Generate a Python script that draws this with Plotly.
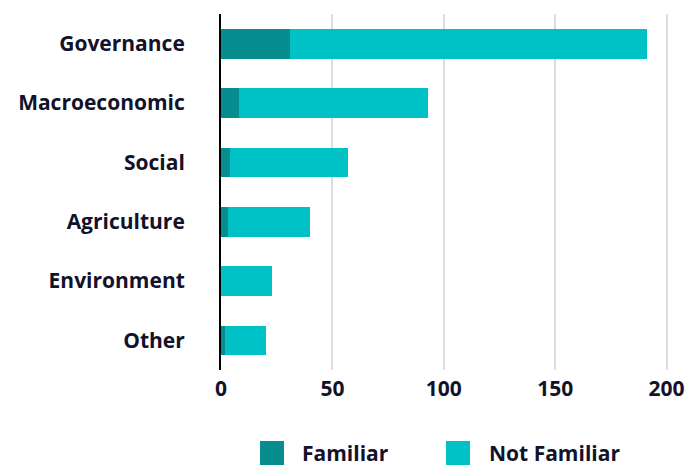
import plotly.graph_objects as go

categories = ["Governance", "Macroeconomic", "Social", "Agriculture", "Environment", "Other"]
familiar = [31, 8, 4, 3, 0, 2]
not_familiar = [160, 85, 53, 37, 23, 18]
x_ticks = [0, 50, 100, 150, 200]
series_names = ["Familiar", "Not Familiar"]

C_FAM = "#068D90"
C_NOT = "#00C2C6"
TXT = "#12122A"
FONT = "Open Sans"
FS = 21
FW = 700

W, H = 688, 466
L, R, T, B = 221, 10, 14, 96
pw, ph = W - L - R, H - T - B

def px_x(x):
    return (x - L) / pw

def px_y(y):
    return (H - B - y) / ph

tf = dict(family=FONT, size=FS, color=TXT, weight=FW)

fig = go.Figure()
fig.add_trace(go.Bar(y=categories, x=familiar, orientation="h", name=series_names[0],
                     marker=dict(color=C_FAM, line=dict(width=0)), width=0.5))
fig.add_trace(go.Bar(y=categories, x=not_familiar, orientation="h", name=series_names[1],
                     marker=dict(color=C_NOT, line=dict(width=0)), width=0.5))

fig.update_layout(
    width=W, height=H, barmode="stack", showlegend=False,
    margin=dict(l=L, r=R, t=T, b=B, autoexpand=False),
    plot_bgcolor="white", paper_bgcolor="white",
    font=tf,
    xaxis=dict(range=[0, pw / 2.228], tickvals=x_ticks, showgrid=True, automargin=False,
               gridcolor="#DDDDDD", gridwidth=2, zeroline=False, showline=False,
               ticks="", ticklabelstandoff=4, tickfont=tf),
    yaxis=dict(categoryorder="array", categoryarray=categories[::-1], automargin=False,
               showline=True, linecolor="black", linewidth=2, showgrid=False,
               ticks="", ticklabelstandoff=30, tickfont=tf),
)

legend_items = [(260, 300, C_FAM, series_names[0]), (446, 487, C_NOT, series_names[1])]
for sx, tx, col, name in legend_items:
    fig.add_shape(type="rect", xref="paper", yref="paper",
                  x0=px_x(sx), x1=px_x(sx + 24), y0=px_y(441), y1=px_y(465),
                  fillcolor=col, line=dict(width=0))
    fig.add_annotation(xref="paper", yref="paper", x=px_x(tx), y=px_y(453),
                       xanchor="left", yanchor="middle", text=name, showarrow=False,
                       font=tf)

fig.write_html("out.html", config={"displayModeBar": False},
               post_script="document.body.style.margin='0';document.body.style.overflow='hidden';")
